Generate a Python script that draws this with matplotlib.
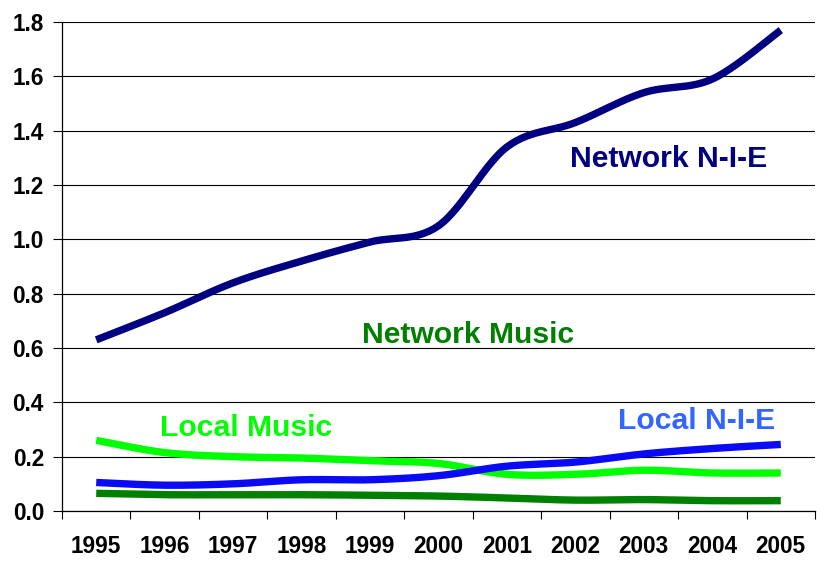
import numpy as np
import matplotlib
matplotlib.use("Agg")
import matplotlib.pyplot as plt
from matplotlib.ticker import MultipleLocator, FixedLocator

years = ["1995", "1996", "1997", "1998", "1999", "2000", "2001", "2002", "2003", "2004", "2005"]
network_nie = [0.63, 0.73, 0.84, 0.92, 0.99, 1.05, 1.34, 1.43, 1.54, 1.59, 1.77]
local_music = [0.26, 0.215, 0.20, 0.195, 0.185, 0.175, 0.135, 0.135, 0.15, 0.14, 0.14]
local_nie = [0.105, 0.095, 0.10, 0.115, 0.115, 0.13, 0.165, 0.18, 0.21, 0.23, 0.245]
network_music = [0.065, 0.06, 0.06, 0.06, 0.058, 0.055, 0.048, 0.04, 0.042, 0.038, 0.038]

plt.rcParams['font.family'] = ['Liberation Sans', 'DejaVu Sans']


def smooth(xs, ys, n=30):
    """Excel-like smoothed line: Catmull-Rom via cubic Bezier segments."""
    xs = np.asarray(xs, float)
    ys = np.asarray(ys, float)
    px = np.concatenate([[xs[0]], xs, [xs[-1]]])
    py = np.concatenate([[ys[0]], ys, [ys[-1]]])
    outx, outy = [], []
    t = np.linspace(0, 1, n)
    for i in range(1, len(px) - 2):
        p0 = np.array([px[i - 1], py[i - 1]])
        p1 = np.array([px[i], py[i]])
        p2 = np.array([px[i + 1], py[i + 1]])
        p3 = np.array([px[i + 2], py[i + 2]])
        c1 = p1 + (p2 - p0) / 6.0
        c2 = p2 - (p3 - p1) / 6.0
        b = ((1 - t) ** 3)[:, None] * p1 + (3 * (1 - t) ** 2 * t)[:, None] * c1 \
            + (3 * (1 - t) * t ** 2)[:, None] * c2 + (t ** 3)[:, None] * p2
        outx.extend(b[:, 0]); outy.extend(b[:, 1])
    return outx, outy


fig = plt.figure(figsize=(8.17, 5.61), dpi=100)
ax = fig.add_axes([62 / 817, 1 - 511 / 561, 753 / 817, 489 / 561])

x = np.arange(len(years))
series = [
    (network_music, "#008000"),
    (local_music, "#00FF00"),
    (local_nie, "#0A0AF5"),
    (network_nie, "#000080"),
]
for vals, col in series:
    sx, sy = smooth(x, vals)
    ax.plot(sx, sy, color=col, lw=5.3, solid_capstyle='butt', zorder=3)

ax.set_xlim(-0.5, len(years) - 0.5)
ax.set_ylim(0, 1.8)
ax.yaxis.set_major_locator(MultipleLocator(0.2))
ax.yaxis.set_major_formatter(matplotlib.ticker.FormatStrFormatter('%.1f'))
ax.set_xticks(x)
ax.set_xticklabels(years)
ax.xaxis.set_minor_locator(FixedLocator(np.arange(-0.5, len(years), 1.0)))

ax.grid(axis='y', color='black', lw=0.8, zorder=1)
for s in ['top', 'right']:
    ax.spines[s].set_visible(False)
for s in ['left', 'bottom']:
    ax.spines[s].set_linewidth(0.9)

ax.tick_params(axis='y', which='major', length=6.5, width=0.8, pad=6.5,
               labelsize=16.3)
ax.tick_params(axis='x', which='major', length=0, pad=17, labelsize=16.3)
ax.tick_params(axis='x', which='minor', length=6, width=0.8, direction='out')
for lab in ax.get_xticklabels() + ax.get_yticklabels():
    lab.set_fontweight('bold')

fs = 21.7
ax.text(8.36, 1.294, "Network N-I-E", color="#000080", fontsize=fs,
        fontweight='bold', ha='center', va='center')
ax.text(5.44, 0.648, "Network Music", color="#008000", fontsize=fs,
        fontweight='bold', ha='center', va='center')
ax.text(2.19, 0.306, "Local Music", color="#00FF00", fontsize=fs,
        fontweight='bold', ha='center', va='center')
ax.text(8.77, 0.332, "Local N-I-E", color="#3366FF", fontsize=fs,
        fontweight='bold', ha='center', va='center')

fig.savefig("out.png", dpi=100)
